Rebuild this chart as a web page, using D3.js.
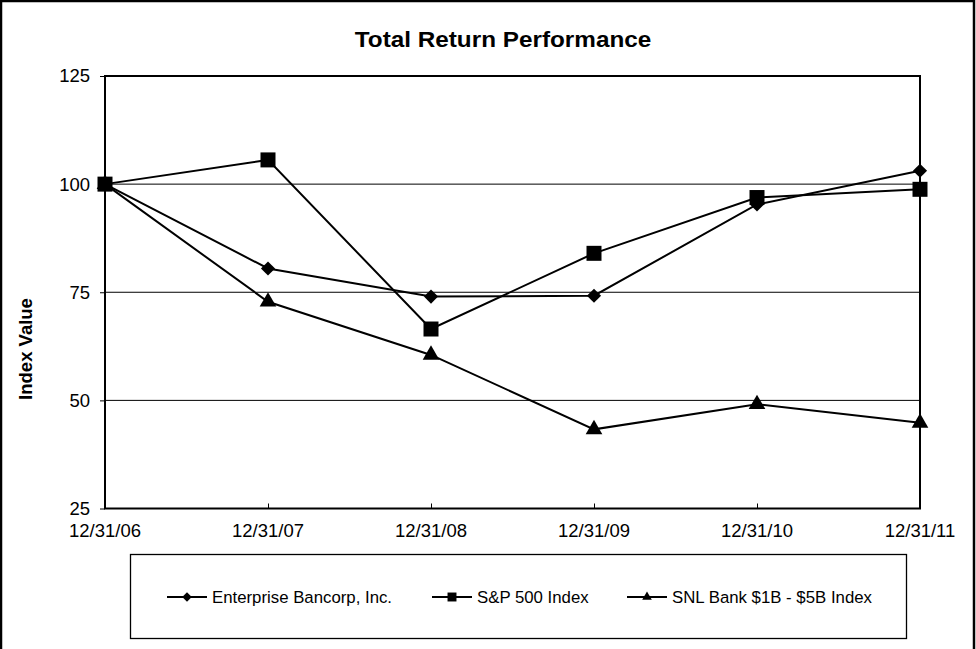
<!DOCTYPE html>
<html>
<head>
<meta charset="utf-8">
<script src="https://cdn.jsdelivr.net/npm/d3@7"></script>
<style>
  body { margin: 0; background: #fff; }
  svg { display: block; font-family: Arial, "Liberation Sans", sans-serif; }
</style>
</head>
<body>
<div id="chart-container"></div>
<script>
const dates = ["12/31/06", "12/31/07", "12/31/08", "12/31/09", "12/31/10", "12/31/11"];
const enterprise = [100, 80.5, 74.0, 74.2, 95.3, 103.1];
const sp500 = [100, 105.6, 66.5, 84.0, 96.9, 98.8];
const snlBank = [100, 72.8, 60.5, 43.3, 49.1, 44.8];
const yTicks = [25, 50, 75, 100, 125];

const series = [
  { name: "Enterprise Bancorp, Inc.", values: enterprise, symbol: d3.symbolSquare, rotate: 45, size: 100, legendSize: 45 },
  { name: "S&P 500 Index", values: sp500, symbol: d3.symbolSquare, rotate: 0, size: 225, legendSize: 80 },
  { name: "SNL Bank $1B - $5B Index", values: snlBank, symbol: d3.symbolTriangle, rotate: 0, size: 120, legendSize: 40 }
];

const width = 976;
const height = 649;
const margin = { top: 76, right: 56, bottom: 141, left: 105 };

const svg = d3.select("#chart-container")
  .append("svg")
  .attr("width", width)
  .attr("height", height);

// outer frame
svg.append("path")
  .attr("d", `M1,${height} L1,1 L${width - 2},1 L${width - 2},${height}`)
  .attr("fill", "none")
  .attr("stroke", "#000")
  .attr("stroke-width", 2.5);

svg.append("text")
  .attr("transform", "translate(503,47) scale(1.08,1)")
  .attr("text-anchor", "middle")
  .style("font-size", "22.5px")
  .style("font-weight", "bold")
  .text("Total Return Performance");

const x = d3.scalePoint()
  .domain(dates)
  .range([margin.left, width - margin.right]);

const y = d3.scaleLinear()
  .domain([25, 125])
  .range([height - margin.bottom + 0.5, margin.top]);

// gridlines
svg.append("g")
  .selectAll("line")
  .data(yTicks.slice(1, -1))
  .join("line")
  .attr("x1", margin.left)
  .attr("x2", width - margin.right)
  .attr("y1", d => y(d))
  .attr("y2", d => y(d))
  .attr("stroke", "#000")
  .attr("stroke-width", 1);

// plot border
svg.append("rect")
  .attr("x", margin.left)
  .attr("y", y(125))
  .attr("width", (width - margin.right) - margin.left)
  .attr("height", y(25) - y(125))
  .attr("fill", "none")
  .attr("stroke", "#000")
  .attr("stroke-width", 2);

const yAxis = svg.append("g")
  .attr("transform", `translate(${margin.left},0)`)
  .call(d3.axisLeft(y).tickValues(yTicks).tickSize(5).tickPadding(10));
yAxis.select(".domain").remove();
yAxis.selectAll("line").attr("stroke-width", 1);
yAxis.selectAll("text").style("font-size", "18.5px").attr("fill", "#000");

const xAxis = svg.append("g")
  .attr("transform", `translate(0,${y(25)})`)
  .call(d3.axisTop(x).tickSize(5).tickFormat(() => ""));
xAxis.select(".domain").remove();

svg.append("g")
  .selectAll("text")
  .data(dates)
  .join("text")
  .attr("x", d => x(d))
  .attr("y", y(25) + 28)
  .attr("text-anchor", "middle")
  .style("font-size", "18.5px")
  .text(d => d);

svg.append("text")
  .attr("transform", `translate(32,349) rotate(-90)`)
  .attr("text-anchor", "middle")
  .style("font-size", "18.5px")
  .style("font-weight", "bold")
  .text("Index Value");

const line = d3.line()
  .x((d, i) => x(dates[i]))
  .y(d => y(d));

series.forEach(s => {
  svg.append("path")
    .datum(s.values)
    .attr("d", line)
    .attr("fill", "none")
    .attr("stroke", "#000")
    .attr("stroke-width", 2);

  svg.append("g")
    .selectAll("path")
    .data(s.values)
    .join("path")
    .attr("transform", (d, i) => `translate(${x(dates[i])},${y(d)}) rotate(${s.rotate})`)
    .attr("d", d3.symbol().type(s.symbol).size(s.size))
    .attr("fill", "#000");
});

// legend
const legend = svg.append("g");
legend.append("rect")
  .attr("x", 130.5)
  .attr("y", 554.5)
  .attr("width", 776)
  .attr("height", 84)
  .attr("fill", "none")
  .attr("stroke", "#000")
  .attr("stroke-width", 1.3);

const legendX = [167, 432, 627];
series.forEach((s, i) => {
  const g = legend.append("g").attr("transform", `translate(${legendX[i]},597)`);
  g.append("line")
    .attr("x1", 0).attr("x2", 40)
    .attr("stroke", "#000").attr("stroke-width", 2);
  g.append("path")
    .attr("transform", `translate(20,0) rotate(${s.rotate})`)
    .attr("d", d3.symbol().type(s.symbol).size(s.legendSize))
    .attr("fill", "#000");
  g.append("text")
    .attr("x", 45)
    .attr("y", 6)
    .style("font-size", "16.8px")
    .text(s.name);
});
</script>
</body>
</html>
